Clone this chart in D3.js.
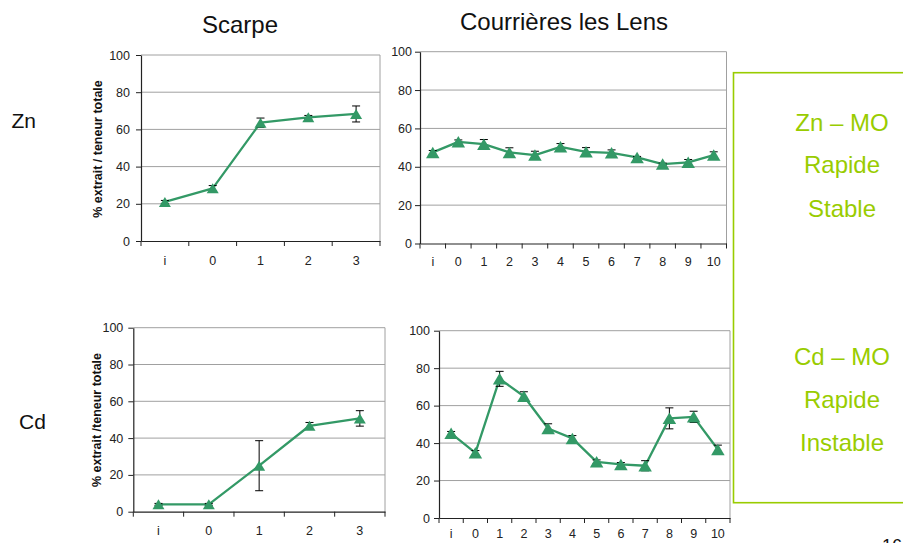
<!DOCTYPE html>
<html>
<head>
<meta charset="utf-8">
<script src="https://cdn.jsdelivr.net/npm/d3@7"></script>
<style>
  html, body { margin: 0; padding: 0; background: #fff; }
  svg { display: block; font-family: "Liberation Sans", Arial, sans-serif; }
</style>
</head>
<body>
<svg id="chart" width="903" height="543"></svg>
<script>
// Sampling dates: initial state (i) then successive dates
const catsScarpe = ["i", "0", "1", "2", "3"];
const catsLens = ["i", "0", "1", "2", "3", "4", "5", "6", "7", "8", "9", "10"];

// % extracted / total content, with standard deviations
const znScarpe    = [21, 28.3, 63.6, 66.5, 68.3];
const znScarpeErr = [0.8, 1.5, 2.5, 1, 4.3];
const znLens      = [47.5, 53, 51.8, 47.5, 46.1, 50.4, 47.8, 47.3, 44.9, 41.4, 42.3, 46.1];
const znLensErr   = [1, 1, 2.4, 2.4, 2, 1.7, 2.2, 1.5, 0.5, 0.5, 1.5, 1.7];
const cdScarpe    = [4, 4, 25, 46.7, 50.7];
const cdScarpeErr = [0.5, 0.5, 13.6, 1.8, 4.2];
const cdLens      = [45.2, 34.8, 74.3, 65, 47.8, 42.5, 30, 28.6, 27.9, 53.2, 54, 36.6];
const cdLensErr   = [1, 1.2, 4, 2.4, 2.5, 1.5, 1, 1, 2.7, 5.6, 3, 2.3];

const yTicks = [0, 20, 40, 60, 80, 100];

const siteTitles = ["Scarpe", "Courrières les Lens"];
const metalLabels = ["Zn", "Cd"];
const boxLines = [["Zn – MO", "Rapide", "Stable"], ["Cd – MO", "Rapide", "Instable"]];

const GREEN = "#339966";
const LIME = "#99cc00";

const svg = d3.select("#chart");

// Panel layout
const panels = [
  { cats: catsScarpe, vals: znScarpe, err: znScarpeErr, left: 141, right: 380, top: 55, bottom: 241,
    ylabel: "% extrait / teneur totale", ylx: 99, yly: 149, pad: 6, xpad: 15, mw: 12, mh: 10 },
  { cats: catsLens, vals: znLens, err: znLensErr, left: 420, right: 726.5, top: 51.7, bottom: 243.5,
    pad: 3, xpad: 14, mw: 13.5, mh: 11.5 },
  { cats: catsScarpe, vals: cdScarpe, err: cdScarpeErr, left: 133.3, right: 385, top: 327.7, bottom: 511.7,
    ylabel: "% extrait /teneur totale", ylx: 98, yly: 420, pad: 5, xpad: 14, mw: 12, mh: 10 },
  { cats: catsLens, vals: cdLens, err: cdLensErr, left: 439, right: 730, top: 330.7, bottom: 518,
    pad: 4, xpad: 11, mw: 13.5, mh: 11.5 }
];

panels.forEach(p => {
  const x = d3.scaleBand().domain(p.cats).range([p.left, p.right]).padding(0);
  const y = d3.scaleLinear().domain([0, 100]).range([p.bottom, p.top]);
  const cx = c => x(c) + x.bandwidth() / 2;
  const g = svg.append("g");

  // gridlines
  g.append("g").selectAll("line").data(yTicks.filter(t => t > 0)).join("line")
    .attr("x1", p.left).attr("x2", p.right)
    .attr("y1", d => y(d)).attr("y2", d => y(d))
    .attr("stroke", "#a0a0a0").attr("stroke-width", 1);
  // plot area right border
  g.append("line").attr("x1", p.right).attr("x2", p.right)
    .attr("y1", p.top).attr("y2", p.bottom)
    .attr("stroke", "#a0a0a0").attr("stroke-width", 1);

  // y axis
  const ya = g.append("g").attr("transform", `translate(${p.left},0)`)
    .call(d3.axisLeft(y).tickValues(yTicks).tickSize(5).tickSizeOuter(0).tickPadding(p.pad));
  ya.select(".domain").attr("stroke", "#222").attr("stroke-width", 1.2);
  ya.selectAll(".tick line").attr("stroke", "#222");
  ya.selectAll("text").attr("font-size", 12.5).attr("fill", "#222")
    .attr("font-family", "Liberation Sans, Arial, sans-serif");

  // x axis: labels centred on categories, tick marks between categories
  const xa = g.append("g").attr("transform", `translate(0,${p.bottom})`)
    .call(d3.axisBottom(x).tickSize(0).tickSizeOuter(0).tickPadding(p.xpad));
  xa.select(".domain").attr("stroke", "#222").attr("stroke-width", 1.2);
  xa.selectAll("text").attr("font-size", 12.5).attr("fill", "#222")
    .attr("font-family", "Liberation Sans, Arial, sans-serif");
  const bounds = p.cats.map(c => x(c)).concat([x.range()[1]]);
  xa.selectAll("line.sep").data(bounds).join("line").attr("class", "sep")
    .attr("x1", d => d).attr("x2", d => d).attr("y1", 0).attr("y2", 5)
    .attr("stroke", "#222").attr("stroke-width", 1);

  // series line
  const pts = p.cats.map((c, i) => [cx(c), y(p.vals[i])]);
  g.append("path").attr("d", d3.line()(pts))
    .attr("fill", "none").attr("stroke", GREEN).attr("stroke-width", 2.3)
    .attr("stroke-linejoin", "round");

  // error bars
  const eb = g.append("g").attr("stroke", "#000").attr("stroke-width", 1);
  p.cats.forEach((c, i) => {
    const xc = cx(c), hi = y(p.vals[i] + p.err[i]), lo = y(p.vals[i] - p.err[i]);
    eb.append("line").attr("x1", xc).attr("x2", xc).attr("y1", hi).attr("y2", lo);
    eb.append("line").attr("x1", xc - 4).attr("x2", xc + 4).attr("y1", hi).attr("y2", hi);
    eb.append("line").attr("x1", xc - 4).attr("x2", xc + 4).attr("y1", lo).attr("y2", lo);
  });

  // triangle markers
  const tri = `M${-p.mw / 2},${p.mh / 2}L${p.mw / 2},${p.mh / 2}L0,${-p.mh / 2}Z`;
  g.append("g").selectAll("path").data(pts).join("path")
    .attr("d", tri).attr("transform", d => `translate(${d[0]},${d[1]})`)
    .attr("fill", GREEN);

  // y axis title
  if (p.ylabel) {
    svg.append("text").text(p.ylabel)
      .attr("transform", `translate(${p.ylx},${p.yly}) rotate(-90)`)
      .attr("text-anchor", "middle").attr("dominant-baseline", "middle")
      .attr("font-size", 12.5).attr("font-weight", "bold").attr("fill", "#111");
  }
});

// column titles
svg.append("text").text(siteTitles[0]).attr("x", 240).attr("y", 32.5)
  .attr("text-anchor", "middle").attr("font-size", 24).attr("fill", "#111");
svg.append("text").text(siteTitles[1]).attr("x", 564).attr("y", 30)
  .attr("text-anchor", "middle").attr("font-size", 24).attr("fill", "#111");

// row labels
svg.append("text").text(metalLabels[0]).attr("x", 11.5).attr("y", 128.3)
  .attr("font-size", 21).attr("fill", "#111");
svg.append("text").text(metalLabels[1]).attr("x", 19).attr("y", 429.3)
  .attr("font-size", 21).attr("fill", "#111");

// summary box
svg.append("rect").attr("x", 733.5).attr("y", 72.7).attr("width", 200).attr("height", 430)
  .attr("fill", "none").attr("stroke", LIME).attr("stroke-width", 1.6);
const baselines = [[130.7, 173.3, 216.7], [365, 408.3, 450.7]];
boxLines.forEach((lines, k) => {
  lines.forEach((t, j) => {
    svg.append("text").text(t).attr("x", 842).attr("y", baselines[k][j])
      .attr("text-anchor", "middle").attr("font-size", 24).attr("fill", LIME);
  });
});

// page number
svg.append("text").text("16").attr("x", 882).attr("y", 552)
  .attr("font-size", 18).attr("fill", "#111");
</script>
</body>
</html>
